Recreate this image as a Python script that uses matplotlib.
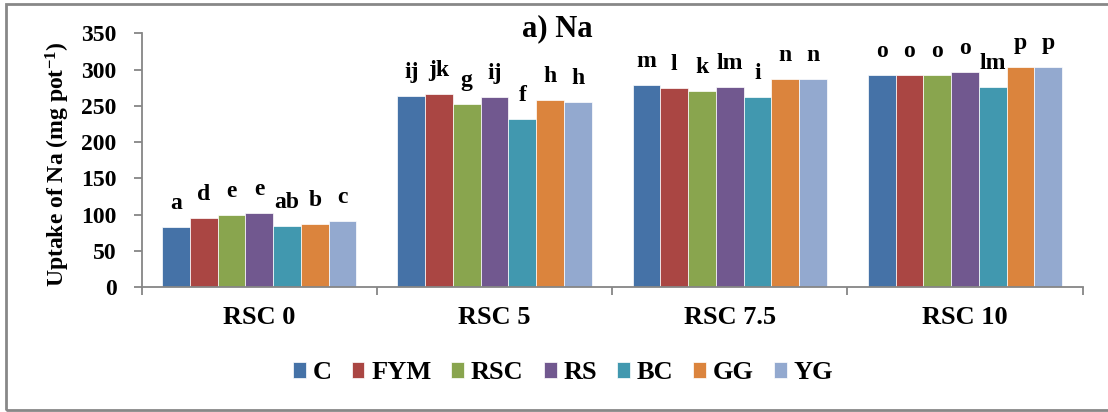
import numpy as np
import matplotlib
matplotlib.use("Agg")
import matplotlib.pyplot as plt
from matplotlib.patches import Rectangle

plt.rcParams['font.family'] = ['Liberation Serif', 'DejaVu Serif']
plt.rcParams['font.weight'] = 'bold'
plt.rcParams['mathtext.fontset'] = 'custom'
plt.rcParams['mathtext.rm'] = 'Liberation Serif:bold'
plt.rcParams['mathtext.bf'] = 'Liberation Serif:bold'
plt.rcParams['mathtext.default'] = 'bf'

groups = ["RSC 0", "RSC 5", "RSC 7.5", "RSC 10"]
treatments = ["C", "FYM", "RSC", "RS", "BC", "GG", "YG"]
colors = ["#4572A7", "#AA4643", "#89A54E", "#71588F", "#4198AF", "#DB843D", "#93A9CF"]

# uptake of Na per treatment, one value per RSC level
na_C = [82.5, 263, 279, 292.5]
na_FYM = [95, 266, 274, 292.5]
na_RSC = [99, 252, 270, 292.5]
na_RS = [102, 262.5, 276.5, 296]
na_BC = [83.5, 232, 262, 276]
na_GG = [86.5, 258, 287.5, 304]
na_YG = [91, 255.5, 287.5, 304]

lt_C = ["a", "ij", "m", "o"]
lt_FYM = ["d", "jk", "l", "o"]
lt_RSC = ["e", "g", "k", "o"]
lt_RS = ["e", "ij", "lm", "o"]
lt_BC = ["ab", "f", "i", "lm"]
lt_GG = ["b", "h", "n", "p"]
lt_YG = ["c", "h", "n", "p"]

values = [na_C, na_FYM, na_RSC, na_RS, na_BC, na_GG, na_YG]
letters = [lt_C, lt_FYM, lt_RSC, lt_RS, lt_BC, lt_GG, lt_YG]

fig = plt.figure(figsize=(11.08, 4.12), dpi=100)
ax = fig.add_axes([0.1279, 0.3034, 0.8492, 0.6158])

x = np.arange(len(groups))
w = 0.118
for i, (name, vals, lts) in enumerate(zip(treatments, values, letters)):
    pos = x + (i - 3) * w
    ax.bar(pos, vals, width=w, color=colors[i], edgecolor="white", linewidth=0.5, label=name)
    for px, v, t in zip(pos, vals, lts):
        ax.annotate(t, (px, v), xytext=(0, 13), textcoords="offset points",
                    ha="center", va="baseline", fontsize=17, fontweight="bold")

ax.set_xlim(-0.5, 3.5)
ax.set_ylim(0, 350)
ax.set_yticks(np.arange(0, 351, 50))
ax.set_xticks(x)
ax.set_xticklabels(groups)
ax.set_xticks(np.arange(-0.5, 3.6, 1), minor=True)
ax.tick_params(axis="x", which="major", length=0, pad=14, labelsize=19)
ax.tick_params(axis="x", which="minor", length=6, width=1.3, color="#868686")
ax.tick_params(axis="y", length=6, width=1.3, color="#868686", pad=12, labelsize=17)
for s in ["top", "right"]:
    ax.spines[s].set_visible(False)
for s in ["left", "bottom"]:
    ax.spines[s].set_color("#868686")
    ax.spines[s].set_linewidth(1.3)
for lab in ax.get_xticklabels() + ax.get_yticklabels():
    lab.set_fontweight("bold")

fig.text(0.503, 0.93, "a) Na", ha="center", va="center", fontsize=22, fontweight="bold")
fig.text(0.052, 0.6, "Uptake of Na (mg pot$^{-1}$)", rotation=90, ha="center", va="center",
         fontsize=17, fontweight="bold")

fig.legend(loc="center", bbox_to_anchor=(0.508, 0.095), ncol=7, frameon=False,
           prop={"size": 19, "weight": "bold"}, handlelength=0.49, handleheight=0.53,
           handletextpad=0.25, columnspacing=0.76)

fig.patches.append(Rectangle((0.005, 0.005), 1.2, 0.985, transform=fig.transFigure,
                             fill=False, edgecolor="#888888", linewidth=2))

fig.savefig("out.png", dpi=100)
